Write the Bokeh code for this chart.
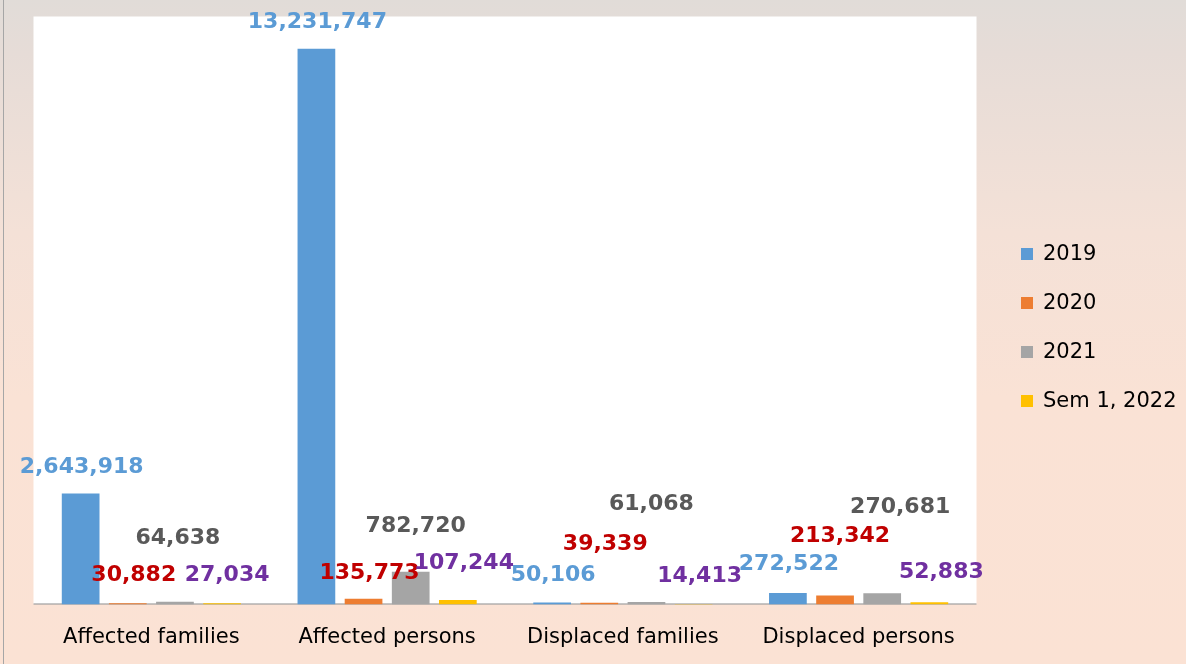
import numpy as np
from bokeh.plotting import figure
from bokeh.models import (ColumnDataSource, Range1d, Legend, LegendItem, LabelSet,
                          BoxAnnotation, FixedTicker)
from bokeh.core.properties import value
from bokeh.embed import file_html
from bokeh.resources import INLINE

categories = ["Affected families", "Affected persons", "Displaced families", "Displaced persons"]
series = ["2019", "2020", "2021", "Sem 1, 2022"]
v2019 = [2643918, 13231747, 50106, 272522]
v2020 = [30882, 135773, 39339, 213342]
v2021 = [64638, 782720, 61068, 270681]
v2022 = [27034, 107244, 14413, 52883]
values = [v2019, v2020, v2021, v2022]
y_max = 14000000

# styles
bar_colors = ["#5b9bd5", "#ed7d31", "#a5a5a5", "#ffc000"]
label_colors = ["#5b9bd5", "#c00000", "#595959", "#7030a0"]
dodges = [-0.3, -0.1, 0.1, 0.3]
label_dx = [[1, 1, 1, 1], [6, 6, 6, 5], [3, 5, 5, 18], [5, 6, 6, 12]]
label_up = [[28, 29, 29, 31], [30, 28, 61, 62], [66, 48, 100, 88], [30, 39, 30, 32]]

FONT = "DejaVu Sans"
W, H = 1186, 664
PLOT_L, PLOT_R, PLOT_T, PLOT_B = 33, 976, 16, 604
unit = (PLOT_R - PLOT_L) / len(categories)

centers = np.arange(len(categories)) + 0.5

# frame covers the whole page above the axis; the white plot area is a box in it
p = figure(width=W, height=H,
           x_range=Range1d(-PLOT_L / unit, (W - PLOT_L) / unit),
           y_range=Range1d(0, y_max * PLOT_B / (PLOT_B - PLOT_T)),
           output_backend="svg", toolbar_location=None,
           min_border_left=0, min_border_right=0, min_border_top=0,
           min_border_bottom=H - PLOT_B)
p.border_fill_color = None
p.background_fill_color = None
p.outline_line_color = None
p.yaxis.visible = False
p.xgrid.grid_line_color = None
p.ygrid.grid_line_color = None

p.add_layout(BoxAnnotation(left=0, right=len(categories), bottom=0, top=y_max,
                           fill_color="white", fill_alpha=1, line_color=None,
                           level="underlay"))

p.xaxis.ticker = FixedTicker(ticks=list(centers))
p.xaxis.major_label_overrides = {float(c): n for c, n in zip(centers, categories)}
p.xaxis.axis_line_color = None
p.xaxis.major_tick_line_color = None
p.xaxis.minor_tick_line_color = None
p.xaxis.major_label_text_font = FONT
p.xaxis.major_label_text_font_size = "21px"
p.xaxis.major_label_text_color = "black"
p.xaxis.major_label_standoff = 13

# baseline
p.segment(x0=[0], x1=[len(categories)], y0=[0], y1=[0], line_color="#8c8c8c", line_width=2)

items = []
for i, s in enumerate(series):
    src = ColumnDataSource(dict(
        x=centers + dodges[i],
        val=values[i],
        txt=[f"{v:,}" for v in values[i]],
        dx=label_dx[i],
        dy=label_up[i],
    ))
    r = p.vbar(x="x", top="val", bottom=0, width=0.16, source=src,
               fill_color=bar_colors[i], line_color=None)
    labels = LabelSet(x="x", y="val", text="txt", x_offset="dx", y_offset="dy", source=src,
                      text_font=value(FONT), text_font_style="bold", text_font_size="22px",
                      text_color=label_colors[i], text_align="center",
                      text_baseline="middle")
    p.add_layout(labels)
    items.append(LegendItem(label=s, renderers=[r]))

legend = Legend(items=items, location=(1019, 192), orientation="vertical",
                glyph_width=15, glyph_height=15, label_standoff=9,
                label_text_font=FONT, label_text_font_size="21px",
                label_text_color="black", spacing=25, padding=0, margin=0,
                border_line_color=None, background_fill_alpha=0)
p.add_layout(legend)

html = file_html(p, INLINE)
css = ("<style>html{min-height:100%;background:linear-gradient(to bottom,"
       "#e1dcd8 0%,#e6dcd7 8%,#f4e1d7 35%,#fae2d5 60%,#fbe2d4 100%);}"
       "body{background:transparent;}"
       "body::before{content:'';position:fixed;left:3px;top:0;bottom:0;width:1px;background:#a6a6a6;}"
       "</style>")
html = html.replace("</head>", css + "</head>", 1)
open("out.html", "w").write(html)
